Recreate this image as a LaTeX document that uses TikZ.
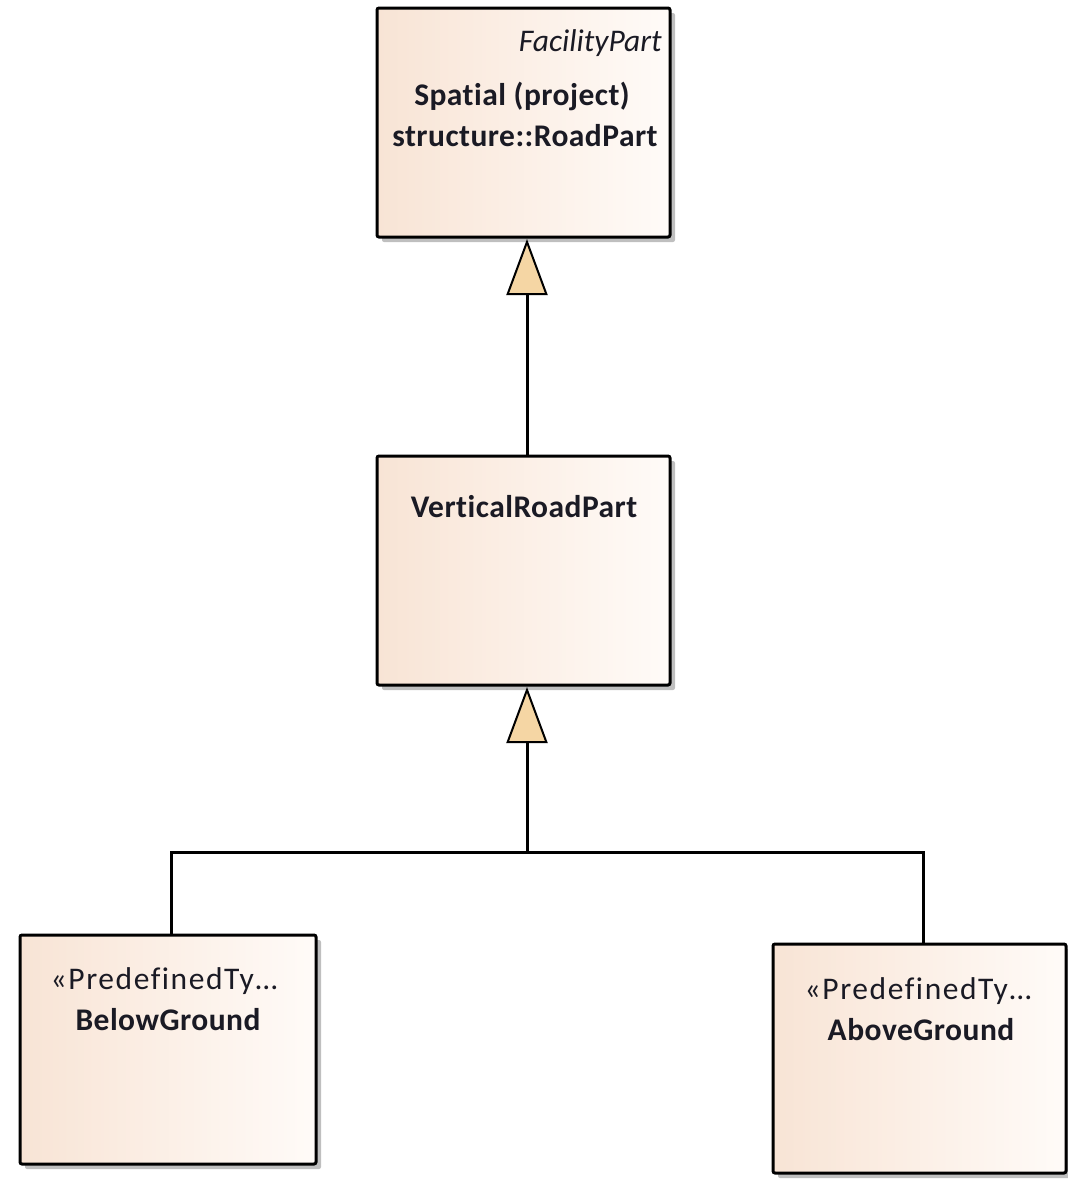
\documentclass[tikz,border=0pt]{standalone}
\usepackage{fontspec}
\setmainfont{Carlito}[RawFeature=-liga]
\usetikzlibrary{arrows.meta,shadows}
\definecolor{peach}{HTML}{F8E4D5}
\definecolor{paleend}{HTML}{FFFBF8}
\definecolor{inkcol}{HTML}{1A1A24}
\definecolor{tipfill}{HTML}{F5D6A4}
\newcommand{\lblsize}{\fontsize{31.5}{37}\selectfont}
\tikzset{
  classbox/.style={draw=black, line width=3pt, rounded corners=2pt,
    left color=peach, right color=paleend,
    drop shadow={shadow xshift=5pt, shadow yshift=-5pt, fill=black!25, opacity=1}},
  lbl/.style={text=inkcol, font=\lblsize, inner sep=0pt},
  stereolbl/.style={lbl, font=\lblsize\addfontfeature{LetterSpace=5}},
  namelbl/.style={lbl, font=\lblsize\bfseries\addfontfeature{LetterSpace=1.5}},
  conn/.style={draw=black, line width=3pt},
  genarrow/.style={conn, -{Triangle[open, length=56pt, width=41pt, line width=2pt, fill=tipfill]}}
}
\begin{document}
\begin{tikzpicture}[x=1pt, y=-1pt]
\useasboundingbox (0,0) rectangle (1068,1181);

% class boxes
\path[classbox] (377,8) rectangle (670,237);
\path[classbox] (377,456) rectangle (670,685);
\path[classbox] (20,935) rectangle (316,1164);
\path[classbox] (773,944) rectangle (1066,1173);

\coordinate (topbot) at (527,456);
\coordinate (junction) at (527,852);
\coordinate (left) at (171,935);
\coordinate (right) at (923,944);

% labels
\node[lbl, anchor=base east, font=\lblsize\itshape] (fp) at (662,51) {FacilityPart};
\node[namelbl, anchor=base] (sp) at (522,105) {Spatial (project)};
\node[namelbl, anchor=base] (rp) at (525,146) {structure::RoadPart};
\node[namelbl, anchor=base] (vr) at (524,517) {VerticalRoadPart};
\node[stereolbl, anchor=base] (pt1) at (164,989) {«PredefinedTy…};
\node[namelbl, anchor=base] (bg) at (168,1030) {BelowGround};
\node[stereolbl, anchor=base] (pt2) at (918,999) {«PredefinedTy…};
\node[namelbl, anchor=base] (ag) at (921,1040) {AboveGround};

% generalization connectors
\draw[genarrow] (topbot) -- (527,239);
\draw[genarrow] (junction) -- (527,687);
\draw[conn] (left) |- (junction) -| (right);
\end{tikzpicture}
\end{document}
